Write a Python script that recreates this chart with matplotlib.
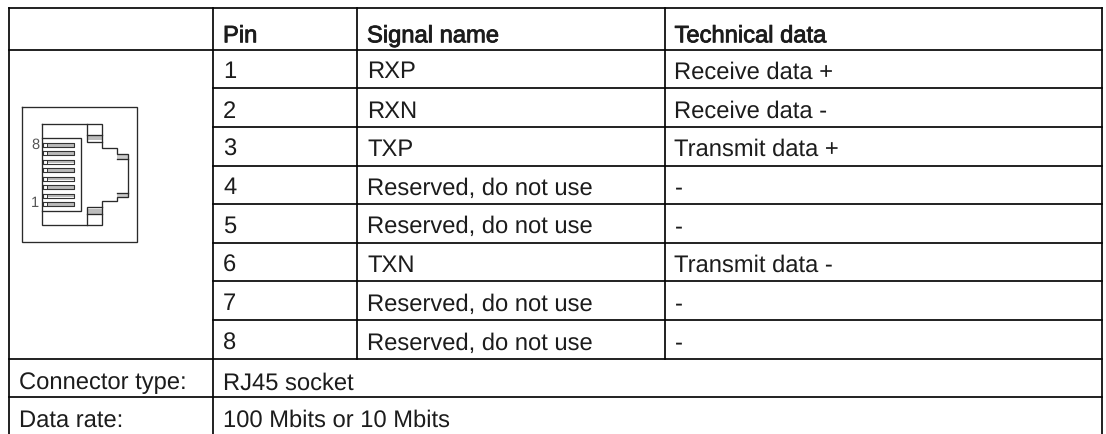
import matplotlib
matplotlib.use("Agg")
import matplotlib.pyplot as plt
import matplotlib.patheffects as pe

plt.rcParams['font.family'] = ['Liberation Sans', 'DejaVu Sans']
plt.rcParams['text.hinting'] = 'no_hinting'

pins = ["1", "2", "3", "4", "5", "6", "7", "8"]
signals = ["RXP", "RXN", "TXP", "Reserved, do not use", "Reserved, do not use",
           "TXN", "Reserved, do not use", "Reserved, do not use"]
tech = ["Receive data +", "Receive data -", "Transmit data +", "-", "-",
        "Transmit data -", "-", "-"]
headers = ["Pin", "Signal name", "Technical data"]
footer_labels = ["Connector type:", "Data rate:"]
footer_values = ["RJ45 socket", "100 Mbits or 10 Mbits"]

W, H = 1106, 434
fig = plt.figure(figsize=(W / 100, H / 100), dpi=100)
ax = fig.add_axes([0, 0, 1, 1])
ax.set_xlim(0, W)
ax.set_ylim(H, 0)
ax.axis("off")

X0, X1, X2, X3, X4 = 9, 213, 357, 665, 1102
Y = [8, 50, 88, 127, 165.5, 204, 242.7, 281, 320, 359, 397, 434]
LK = dict(color="#050505", lw=1.25, solid_capstyle="projecting")
TXT = dict(fontsize=17.1, color="#1c1c1c", va="baseline", ha="left")
TX1, TX2, TX3 = X1 + 10, X2 + 10, X3 + 9.5

for i, y in enumerate(Y[:-1]):
    xs = X0 if i in (0, 1, 9, 10) else X1
    ax.plot([xs, X4], [y, y], **LK)
ax.plot([X0, X0], [Y[0], H + 2], **LK)
ax.plot([X1, X1], [Y[0], H + 2], **LK)
ax.plot([X2, X2], [Y[0], Y[9]], **LK)
ax.plot([X3, X3], [Y[0], Y[9]], **LK)
ax.plot([X4, X4], [Y[0], H + 2], **LK)

for x, t in zip((TX1, TX2, TX3), headers):
    ax.text(x, Y[1] - 7.7, t, path_effects=[pe.withStroke(linewidth=0.6, foreground="#1c1c1c")], **TXT)
for i in range(8):
    yb = Y[i + 2] - 9.5
    ax.text(TX1, yb, pins[i], **TXT)
    ax.text(TX2, yb, signals[i], **TXT)
    ax.text(TX3, yb, tech[i], **TXT)
for i in range(2):
    yb = Y[10 + i] - 7.5
    ax.text(X0 + 10.3, yb, footer_labels[i], **TXT)
    ax.text(TX1, yb, footer_values[i], **TXT)

# RJ45 socket icon
D = dict(color="#2a2a2a", lw=0.95, solid_joinstyle="miter")
ax.plot([22, 137, 137, 22, 22], [107, 107, 242, 242, 107], **D)
ax.plot([42, 101.7, 101.7, 117, 117, 127.7, 127.7, 117, 117, 101.7, 101.7, 42, 42],
        [124, 124, 147.7, 147.7, 154, 154, 196.7, 196.7, 201, 201, 225, 225, 124], **D)
ax.plot([42, 81, 81, 42], [138, 138, 210.7, 210.7], **D)
# latches and side tabs
ax.plot([87.3, 87.3, 101.7], [124, 142, 142], **D)
ax.plot([87.3, 87.3, 101.7], [225, 207, 207], **D)
ax.fill_between([87.3, 101.7], 135, 140, color="#bdbdbd", lw=0)
ax.fill_between([87.3, 101.7], 209, 214, color="#bdbdbd", lw=0)
ax.plot([87.3, 101.7], [135, 135], **D)
ax.plot([87.3, 101.7], [214, 214], **D)
ax.plot([117, 127.7], [159, 159], **D)
ax.plot([117, 127.7], [192.7, 192.7], **D)
ax.fill_between([117, 127.7], 154, 159, color="#cccccc", lw=0)
ax.fill_between([117, 127.7], 192.7, 196.7, color="#cccccc", lw=0)
for k in range(8):
    y = 145 + k * 8.43
    ax.fill_between([47, 74], y - 1.6, y + 1.6, color="#bbbbbb", lw=0)
    ax.plot([43, 74, 74, 43, 43], [y - 2, y - 2, y + 2, y + 2, y - 2], color="#333333", lw=0.8)
    ax.plot([47, 47], [y - 2, y + 2], color="#333333", lw=0.7)
ax.text(35, 145, "8", fontsize=10.5, color="#555555", ha="center", va="center")
ax.text(35, 203, "1", fontsize=10.5, color="#555555", ha="center", va="center")

fig.savefig("out.png", dpi=100)
